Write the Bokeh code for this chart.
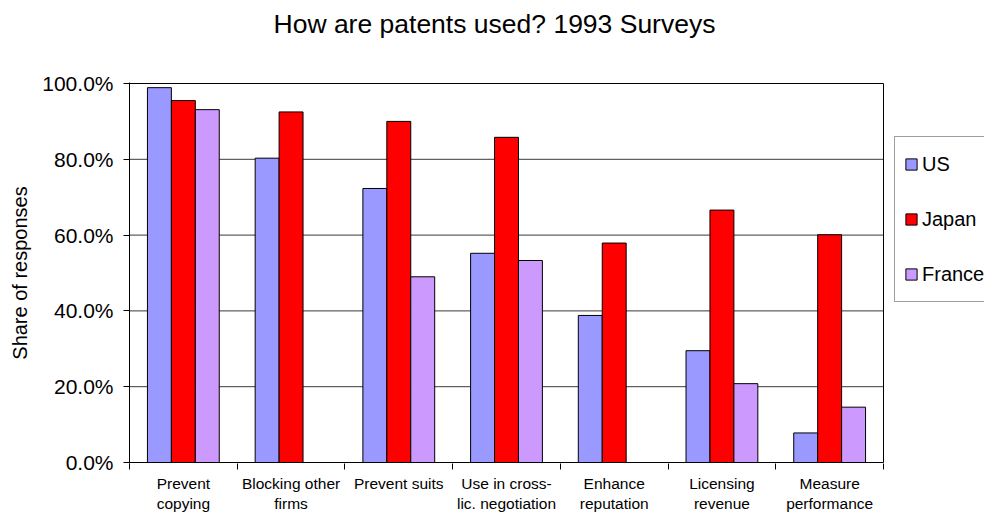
from bokeh.plotting import figure
from bokeh.models import (Range1d, FixedTicker, Legend, LegendItem, Title,
                          PrintfTickFormatter, ColumnDataSource)
from bokeh.transform import dodge
from bokeh.embed import file_html
from bokeh.resources import INLINE

# ---- data ----
categories = ["Prevent\ncopying", "Blocking other\nfirms", "Prevent suits",
              "Use in cross-\nlic. negotiation", "Enhance\nreputation",
              "Licensing\nrevenue", "Measure\nperformance"]
us = [98.9, 80.3, 72.3, 55.2, 38.8, 29.5, 7.8]
japan = [95.5, 92.5, 90.0, 85.8, 57.9, 66.6, 60.1]
france = [93.1, None, 49.0, 53.3, None, 20.8, 14.6]
series_names = ["US", "Japan", "France"]
series_colors = ["#9999FF", "#FF0000", "#CC99FF"]
y_ticks = [0, 20, 40, 60, 80, 100]
title_text = "How are patents used? 1993 Surveys"
y_label = "Share of responses"

FONT = "Liberation Sans"
W, H = 984, 514
PL, PR, PT, PB = 129, 883, 83, 462        # plot-area edges (px)
n = len(categories)
ppx = (PR - PL) / n                       # px per category
ppy = (PB - PT) / 100.0                   # px per percent

# frame runs to the right canvas edge (room for legend), 1px extra top/bottom
x_end = n + (W - PR) / ppx
p = figure(width=W, height=H, output_backend="svg", toolbar_location=None,
           x_range=Range1d(0, x_end),
           y_range=Range1d(-1 / ppy, 100 + 1 / ppy),
           min_border_left=PL, min_border_right=0,
           min_border_top=PT - 1, min_border_bottom=H - (PB + 1))
p.outline_line_color = None
p.background_fill_color = "white"
p.border_fill_color = "white"
p.xgrid.grid_line_color = None
p.ygrid.grid_line_color = None

# gridlines across the plot area only
grid_vals = [t for t in y_ticks if 0 < t < 100]
p.segment(x0=[0] * len(grid_vals), x1=[n] * len(grid_vals), y0=grid_vals, y1=grid_vals,
          line_color="#3a3a3a", line_width=1)

bw = 1 / 4.5
offsets = [-bw, 0, bw]
renderers = []
for name, vals, col, off in zip(series_names, [us, japan, france], series_colors, offsets):
    xs = [i + 0.5 for i, v in enumerate(vals) if v is not None]
    ys = [v for v in vals if v is not None]
    src = ColumnDataSource(dict(pos=xs, top=ys))
    r = p.vbar(x=dodge("pos", off), top="top", bottom=0, width=bw, source=src,
               fill_color=col, line_color="black", line_width=1)
    renderers.append(r)

# plot-area border: top, right, bottom
p.segment(x0=[0, n, 0], y0=[100, 0, 0], x1=[n, n, n], y1=[100, 100, 0],
          line_color="black", line_width=1)

# x axis: labels at centres, tick marks at category boundaries
xa = p.xaxis[0]
xa.ticker = FixedTicker(ticks=[i + 0.5 for i in range(n)],
                        minor_ticks=list(range(n + 1)))
xa.major_label_overrides = {i + 0.5: c for i, c in enumerate(categories)}
xa.major_tick_line_color = None
xa.major_tick_out = 0
xa.minor_tick_in = 0
xa.minor_tick_out = 6
xa.minor_tick_line_color = "black"
xa.axis_line_color = None
xa.major_label_standoff = 5
xa.major_label_text_font = FONT
xa.major_label_text_font_size = "15.5px"
xa.major_label_text_color = "black"

ya = p.yaxis[0]
ya.ticker = FixedTicker(ticks=y_ticks)
ya.formatter = PrintfTickFormatter(format="%.1f%%")
ya.minor_tick_line_color = None
ya.major_tick_in = 0
ya.major_tick_out = 6
ya.major_tick_line_color = "black"
ya.axis_line_color = "black"
ya.major_label_standoff = 10
ya.major_label_text_font = FONT
ya.major_label_text_font_size = "21px"
ya.major_label_text_color = "black"
ya.axis_label = y_label
ya.axis_label_text_font = FONT
ya.axis_label_text_font_size = "20px"
ya.axis_label_text_font_style = "normal"
ya.axis_label_text_color = "black"
ya.axis_label_standoff = 8

# spacer next to the frame, then the title above it
p.add_layout(Title(text=" ", text_font_size="1px", standoff=41, align="left"), "above")
p.add_layout(Title(text=title_text, text_font=FONT, text_font_size="26.5px",
                   text_font_style="normal", text_color="black",
                   align="left", offset=144, standoff=0), "above")

legend = Legend(items=[LegendItem(label=s, renderers=[r]) for s, r in zip(series_names, renderers)],
                orientation="vertical",
                padding=9, spacing=19, glyph_width=14, glyph_height=14,
                label_standoff=4, label_height=36,
                label_text_font=FONT, label_text_font_size="20px", label_text_color="black",
                border_line_color="#404040", border_line_width=1,
                background_fill_color="white", background_fill_alpha=1,
                margin=0)
legend.location = (894 - PL, (PB + 1) - 302)
p.add_layout(legend, "center")

open("out.html", "w").write(file_html(p, INLINE))
